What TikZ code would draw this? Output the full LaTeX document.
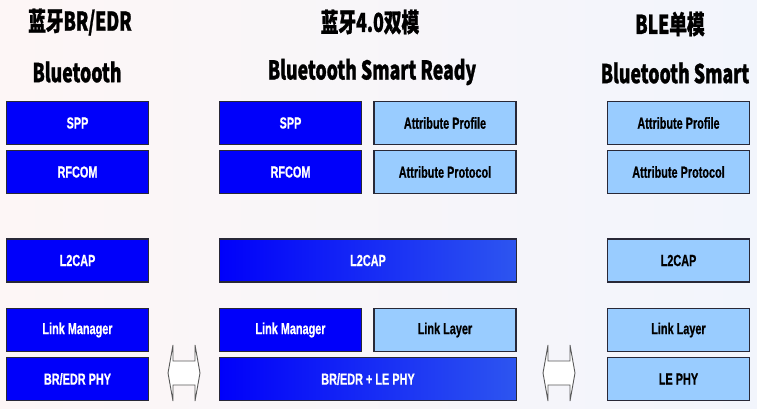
\documentclass[tikz,border=0pt]{standalone}
\usepackage{fontspec}
\setmainfont{Liberation Sans}
\newfontfamily\boxfont{Liberation Sans}[FakeStretch=0.68, FakeBold=0.6]
\newfontfamily\titlefont{Noto Sans CJK SC}[FakeStretch=0.68, FakeBold=1]

\definecolor{stackblue}{RGB}{0,0,250}
\definecolor{stackwide}{RGB}{45,85,240}
\definecolor{stacklight}{RGB}{153,204,255}
\definecolor{stackedge}{RGB}{40,40,55}

\tikzset{
  darkbox/.style={draw=stackedge, line width=1.5pt, fill=stackblue, text=white,
    minimum width=142pt, minimum height=43pt, inner sep=0pt,
    font=\boxfont\bfseries\fontsize{16}{16}\selectfont},
  lightbox/.style={darkbox, fill=stacklight, text=black},
  widebox/.style={darkbox, minimum width=297pt, left color=stackblue, right color=stackwide},
  heading/.style={font=\titlefont\bfseries\fontsize{26}{26}\selectfont},
  modearrow/.style={draw=black!65, line width=0.9pt, fill=white}
}

\begin{document}
\begin{tikzpicture}[x=1pt, y=-1pt]
    \useasboundingbox (0,0) rectangle (757,408);
    \fill[left color={rgb,255:red,253;green,246;blue,246}, right color={rgb,255:red,242;green,245;blue,252}] (0,0) rectangle (757,408);
    % Titles
    \node[heading] (brT) at (80,22) {蓝牙BR/EDR};
    \node[heading] (brS) at (77,72) {Bluetooth};
    \node[heading] (dualT) at (370,22) {蓝牙4.0双模};
    \node[heading] (dualS) at (372,72) {Bluetooth Smart Ready};
    \node[heading] (bleT) at (670,24) {BLE单模};
    \node[heading] (bleS) at (675,73) {Bluetooth Smart};
    % BR/EDR stack
    \node[darkbox] (spp) at (77.5,123) {SPP};
    \node[darkbox] (rfcom) at (77.5,172) {RFCOM};
    \node[darkbox] (l2cap) at (77.5,260.5) {L2CAP};
    \node[darkbox] (lm) at (77.5,330) {Link Manager};
    \node[darkbox] (phy) at (77.5,379) {BR/EDR PHY};
    % Dual mode stack
    \node[darkbox] (spp') at (290.5,123) {SPP};
    \node[darkbox] (rfcom') at (290.5,172) {RFCOM};
    \node[lightbox] (attp') at (445,123) {Attribute Profile};
    \node[lightbox] (attr') at (445,172) {Attribute Protocol};
    \node[widebox] (l2cap') at (368,260.5) {L2CAP};
    \node[darkbox] (lm') at (290.5,330) {Link Manager};
    \node[lightbox] (ll') at (445,330) {Link Layer};
    \node[widebox] (phy') at (368,379) {BR/EDR + LE PHY};
    % BLE stack
    \node[lightbox] (attp'') at (678.5,123) {Attribute Profile};
    \node[lightbox] (attr'') at (678.5,172) {Attribute Protocol};
    \node[lightbox] (l2cap'') at (678.5,260.5) {L2CAP};
    \node[lightbox] (ll'') at (678.5,330) {Link Layer};
    \node[lightbox] (phy'') at (678.5,379) {LE PHY};
    % Arrows
    \draw[modearrow, shift={(184,373)}] (-16,0) -- (-11,-28) -- (-11,-12) -- (11,-12) -- (11,-28)
      -- (16,0) -- (11,28) -- (11,12) -- (-11,12) -- (-11,28) -- cycle;
    \draw[modearrow, shift={(559,373)}] (-16,0) -- (-11,-28) -- (-11,-12) -- (11,-12) -- (11,-28)
      -- (16,0) -- (11,28) -- (11,12) -- (-11,12) -- (-11,28) -- cycle;
\end{tikzpicture}
\end{document}
